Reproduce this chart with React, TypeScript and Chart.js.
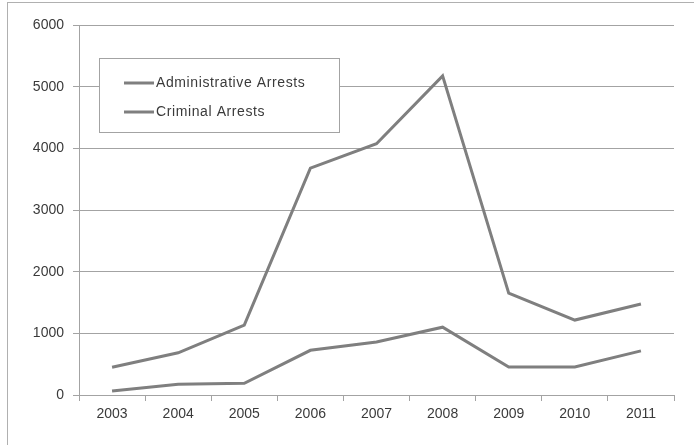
import React, { useEffect, useRef } from "react";
import { Chart, registerables } from "chart.js";

Chart.register(...registerables);

const years = ["2003", "2004", "2005", "2006", "2007", "2008", "2009", "2010", "2011"];
const administrativeArrests = [450, 685, 1135, 3680, 4075, 5175, 1650, 1215, 1475];
const criminalArrests = [65, 175, 190, 725, 860, 1100, 455, 455, 715];
const seriesNames = ["Administrative Arrests", "Criminal Arrests"];

const LINE = "#7f7f7f";
const GRID = "#a3a3a3";
const TEXT = "#3a3a3a";
const FONT = "'Liberation Sans', 'DejaVu Sans', sans-serif";

// Boxed legend drawn inside the plot area, over the gridlines
const insetLegend = {
  id: "insetLegend",
  afterDraw(chart: any) {
    const { ctx, chartArea } = chart;
    const x = chartArea.left + 20;
    const y = chartArea.top + 33;
    const w = 240;
    const h = 74;
    ctx.save();
    ctx.fillStyle = "#ffffff";
    ctx.fillRect(x, y, w, h);
    ctx.strokeStyle = GRID;
    ctx.lineWidth = 1;
    ctx.strokeRect(x + 0.5, y + 0.5, w, h);
    ctx.font = `14px ${FONT}`;
    (ctx as any).letterSpacing = "0.6px";
    ctx.textBaseline = "middle";
    ctx.fillStyle = TEXT;
    chart.data.datasets.forEach((ds: any, i: number) => {
      const ly = y + 25 + i * 29;
      ctx.strokeStyle = ds.borderColor;
      ctx.lineWidth = 3;
      ctx.beginPath();
      ctx.moveTo(x + 25, ly);
      ctx.lineTo(x + 55, ly);
      ctx.stroke();
      ctx.fillText(ds.label, x + 57, ly);
    });
    ctx.restore();
  },
};

export default function App() {
  const canvasRef = useRef<HTMLCanvasElement>(null);

  useEffect(() => {
    const chart = new Chart(canvasRef.current!, {
      type: "line",
      data: {
        labels: years,
        datasets: [
          {
            label: seriesNames[0],
            data: administrativeArrests,
            borderColor: LINE,
            borderWidth: 3,
            pointRadius: 0,
            tension: 0,
          },
          {
            label: seriesNames[1],
            data: criminalArrests,
            borderColor: LINE,
            borderWidth: 3,
            pointRadius: 0,
            tension: 0,
          },
        ],
      },
      options: {
        responsive: false,
        animation: false,
        layout: { padding: { top: 25, right: 20, left: 0, bottom: 0 } },
        plugins: {
          legend: { display: false },
          tooltip: { enabled: false },
        },
        scales: {
          x: {
            offset: true,
            grid: {
              offset: true,
              drawOnChartArea: false,
              color: GRID,
              tickLength: 6,
            },
            border: { display: true, color: GRID },
            ticks: {
              color: TEXT,
              font: { family: FONT, size: 14 },
              padding: 5,
              maxRotation: 0,
            },
            afterFit(scale: any) {
              scale.height = 50;
            },
          },
          y: {
            min: 0,
            max: 6000,
            ticks: {
              stepSize: 1000,
              color: TEXT,
              font: { family: FONT, size: 14 },
              padding: 9,
              callback: (v: any) => String(v),
            },
            grid: { color: GRID, tickLength: 6 },
            border: { display: true, color: GRID },
            afterFit(scale: any) {
              scale.width = 79;
            },
          },
        },
      },
      plugins: [insetLegend],
    });
    return () => chart.destroy();
  }, []);

  return (
    <div style={{ position: "fixed", left: 0, top: 0, width: 694, height: 445, background: "#fff", overflow: "hidden" }}>
      <div
        style={{
          position: "absolute",
          left: 7,
          top: 2,
          width: 720,
          height: 480,
          border: "1px solid #b0b0b0",
        }}
      />
      <canvas ref={canvasRef} width={694} height={445} style={{ position: "absolute", left: 0, top: 0 }} />
    </div>
  );
}
